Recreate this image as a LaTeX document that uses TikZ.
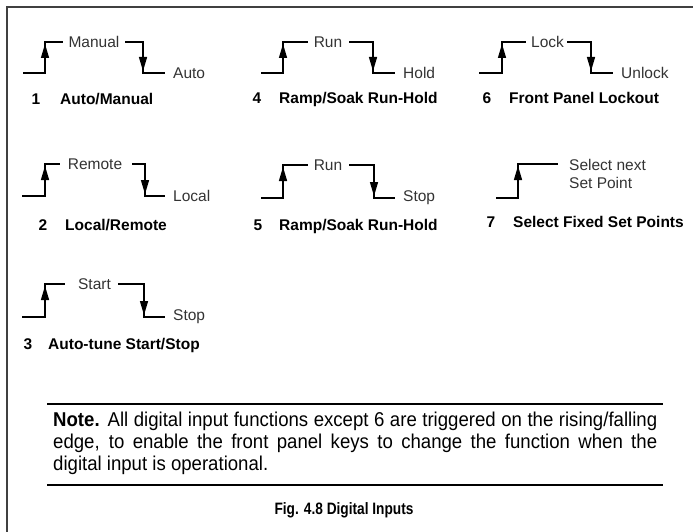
\documentclass[tikz,border=0pt]{standalone}
\usepackage{fontspec}
\setmainfont{Liberation Sans}
\newfontfamily\notefont[FakeStretch=0.93]{Liberation Sans}
\newfontfamily\capfont[FakeStretch=0.83]{Liberation Sans}
\newcommand\digwave[9]{%
  \coordinate (#1a) at (#2,#9); \coordinate (#1b) at (#3,#9);
  \coordinate (#1c) at (#3,#8); \coordinate (#1d) at (#4,#8);
  \coordinate (#1e) at (#5,#8); \coordinate (#1f) at (#6,#8);
  \coordinate (#1g) at (#6,#9); \coordinate (#1h) at (#7,#9);
  \draw[wave] (#1a) -- (#1b) -- (#1c) -- (#1d);
  \draw[wave] (#1e) -- (#1f) -- (#1g) -- (#1h);
  \fill ([yshift=-2pt]#1c) -- ([xshift=-4.2pt,yshift=-16pt]#1c) -- ([xshift=4.2pt,yshift=-16pt]#1c) -- cycle;
  \fill ([yshift=2pt]#1g) -- ([xshift=-4.2pt,yshift=16pt]#1g) -- ([xshift=4.2pt,yshift=16pt]#1g) -- cycle;
}
\newcommand\risewave[6]{%
  \coordinate (#1a) at (#2,#6); \coordinate (#1b) at (#3,#6);
  \coordinate (#1c) at (#3,#5); \coordinate (#1d) at (#4,#5);
  \draw[wave] (#1a) -- (#1b) -- (#1c) -- (#1d);
  \fill ([yshift=-2pt]#1c) -- ([xshift=-4.2pt,yshift=-16pt]#1c) -- ([xshift=4.2pt,yshift=-16pt]#1c) -- cycle;
}
\begin{document}
\begin{tikzpicture}[x=1pt,y=-1pt,
  wave/.style={line width=1.9pt, black, line join=miter},
  state/.style={font=\fontsize{15.5}{18.5}\selectfont, text=black!80, inner sep=0pt},
  title/.style={font=\fontsize{15.5}{18}\selectfont\bfseries, inner sep=0pt, anchor=base},
  ttl/.style={title, anchor=base west},
  frame/.style={line width=2pt, black!75},
  rule/.style={line width=1.4pt, black}]
\useasboundingbox (0,0) rectangle (693,532);
% frame
\coordinate (fbl) at (7,532); \coordinate (ftl) at (7,7); \coordinate (ftr) at (693,7);
\draw[frame] (fbl) -- (ftl) -- (ftr);

% 1 Auto/Manual
\digwave{w1}{23}{45}{63}{125}{143}{165}{42}{73}
\node[state] (s1a) at (94,42) {Manual};
\node[state, anchor=west] (s1b) at (173,73) {Auto};
\node[title] (n1) at (36,104.5) {1};
\node[ttl] (t1) at (60,104.5) {Auto/Manual};

% 4 Run/Hold
\digwave{w4}{261}{283}{308}{349}{373}{395}{42}{73}
\node[state] (s4a) at (328,42) {Run};
\node[state, anchor=west] (s4b) at (403,73) {Hold};
\node[title] (n4) at (257,104) {4};
\node[ttl] (t4) at (279,104) {Ramp/Soak Run-Hold};

% 6 Lock
\digwave{w6}{479}{502}{526}{567}{591}{613}{42}{73}
\node[state] (s6a) at (547.5,42) {Lock};
\node[state, anchor=west] (s6b) at (621,73) {Unlock};
\node[title] (n6) at (487,104) {6};
\node[ttl] (t6) at (509,104) {Front Panel Lockout};

% 2 Local/Remote
\digwave{w2}{22}{45}{60}{132}{145}{165}{164}{196}
\node[state] (s2a) at (95,164) {Remote};
\node[state, anchor=west] (s2b) at (173,196) {Local};
\node[title] (n2) at (43,230.5) {2};
\node[ttl] (t2) at (65,230.5) {Local/Remote};

% 5 Run/Stop
\digwave{w5}{261}{283}{308}{349}{374}{395}{165}{198}
\node[state] (s5a) at (328,165) {Run};
\node[state, anchor=west] (s5b) at (403,198) {Stop};
\node[title] (n5) at (258,230.5) {5};
\node[ttl] (t5) at (279,230.5) {Ramp/Soak Run-Hold};

% 7 Select fixed set points
\risewave{w7}{496}{518}{558}{164}{198}
\node[state, anchor=west, align=left] (s7a) at (569,174) {Select next\\Set Point};
\node[title] (n7) at (491,227.5) {7};
\node[ttl] (t7) at (513,227.5) {Select Fixed Set Points};

% 3 Auto-tune
\digwave{w3}{22}{45}{65}{118}{144}{165}{284}{317}
\node[state] (s3a) at (94.5,284) {Start};
\node[state, anchor=west] (s3b) at (173,317) {Stop};
\node[title] (n3) at (28,349.5) {3};
\node[ttl] (t3) at (48,349.5) {Auto-tune Start/Stop};

% note
\coordinate (r1a) at (47,404); \coordinate (r1b) at (663,404);
\coordinate (r2a) at (47,485); \coordinate (r2b) at (663,485);
\draw[rule] (r1a) -- (r1b);
\draw[rule] (r2a) -- (r2b);
\node[anchor=north west, text width=604pt, inner sep=0pt, align=justify,
      font=\notefont\fontsize{20}{22}\selectfont] (note) at (53,412)
  {\textbf{Note.} All digital input functions except 6 are triggered on the rising/falling\linebreak edge, to enable the front panel keys to change the function when the\linebreak digital input is operational.};
\node[font=\capfont\fontsize{16.5}{18}\selectfont\bfseries, inner sep=0pt] (cap) at (344,510) {Fig. 4.8 Digital Inputs};
\end{tikzpicture}
\end{document}
